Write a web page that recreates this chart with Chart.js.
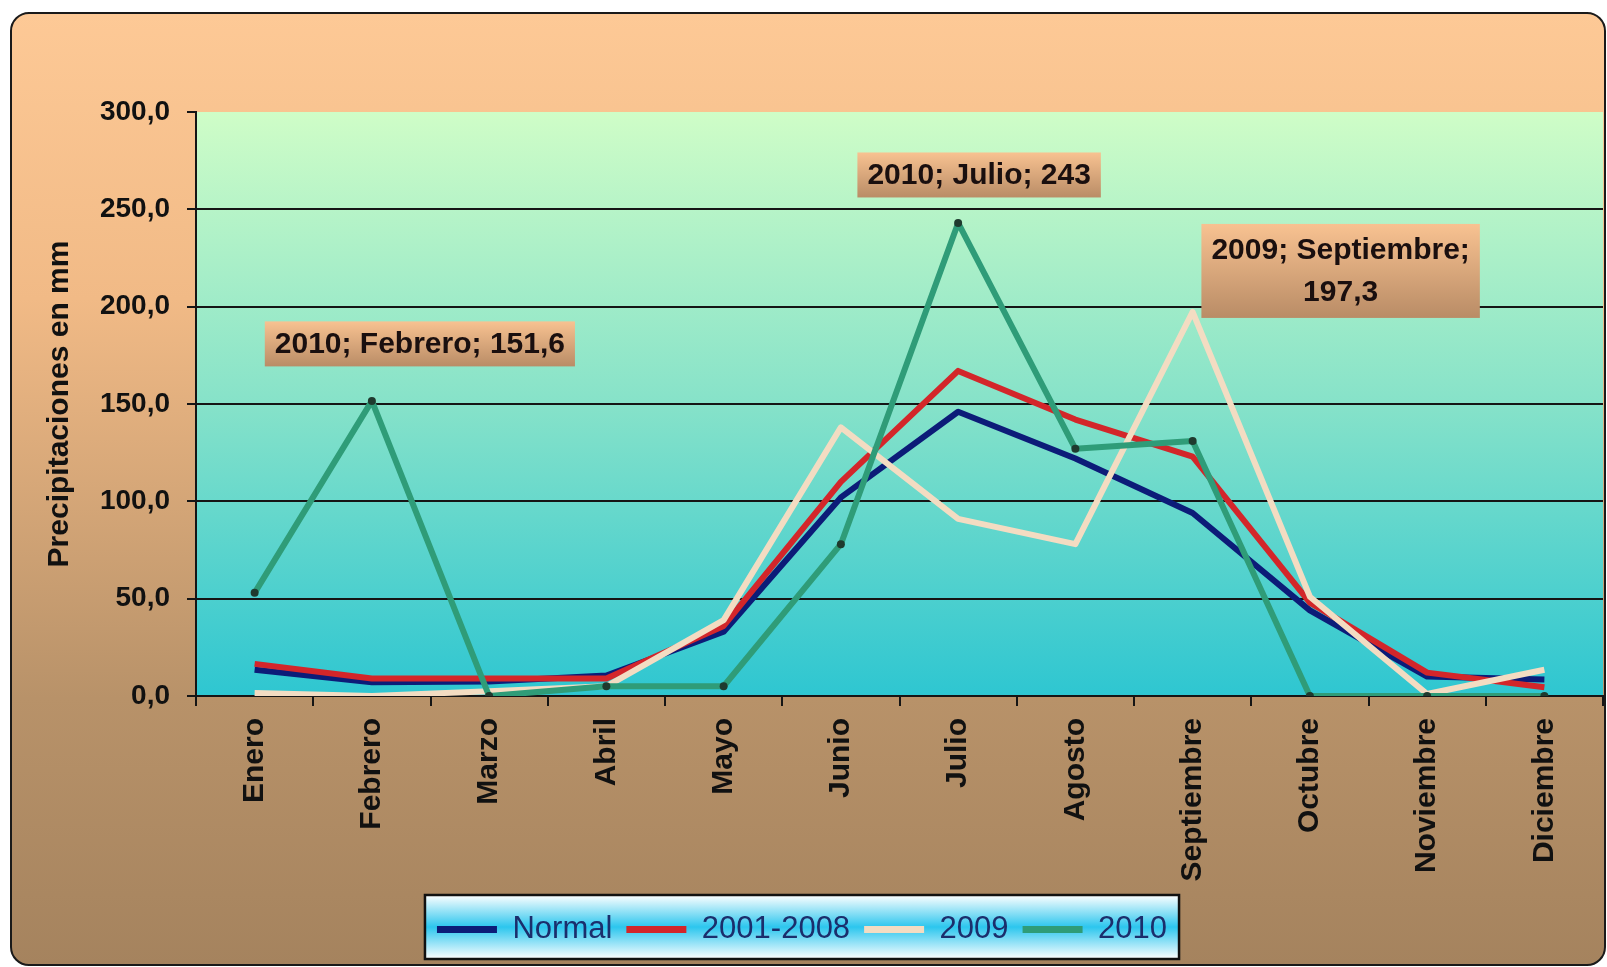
<!DOCTYPE html>
<html>
<head>
<meta charset="utf-8">
<script src="https://cdn.jsdelivr.net/npm/chart.js@4.4.1/dist/chart.umd.min.js"></script>
<style>
  html, body { margin: 0; padding: 0; background: #fff; }
  #wrap { width: 1607px; height: 967px; position: relative; }
</style>
</head>
<body>
<div id="wrap"><canvas id="rainChart"></canvas></div>
<script>
// Precipitaciones mensuales en mm
const months = ['Enero', 'Febrero', 'Marzo', 'Abril', 'Mayo', 'Junio', 'Julio', 'Agosto', 'Septiembre', 'Octubre', 'Noviembre', 'Diciembre'];
const seriesNames = ['Normal', '2001-2008', '2009', '2010'];
const normalValues = [13.5, 7, 7.5, 10.5, 33, 102, 146, 122, 94, 44, 10, 8.5];
const avg0108Values = [16.5, 9, 9, 9, 36, 110, 167, 142, 123, 48, 12, 4.5];
const values2009 = [1.5, 0, 2.5, 5, 39, 138, 91, 78, 197.3, 51, 1, 13.5];
const values2010 = [53, 151.6, 0, 5, 5, 78, 243, 127, 131, 0, 0, 0];
const yTicks = [0, 50, 100, 150, 200, 250, 300];

const seriesColors = ['#0c1c78', '#d3262a', '#f3dcc2', '#2f9c78'];
const gridColor = '#151515';
const boldFont = '"Liberation Sans", Arial, sans-serif';

// etiquetas de datos (serie, mes, desplazamiento de la caja)
const callouts = [
  { series: 3, month: 1, dx: 48, dy: -57, wrap: false },
  { series: 3, month: 6, dx: 21, dy: -48, wrap: false },
  { series: 2, month: 8, dx: 148, dy: -41, wrap: true }
];

const fmt = v => String(v).replace('.', ',');

const backdropPlugin = {
  id: 'backdrop',
  beforeDraw(chart) {
    const { ctx, chartArea: a } = chart;
    ctx.save();
    // panel exterior
    const g = ctx.createLinearGradient(0, 13, 0, 965);
    g.addColorStop(0, '#fdc996');
    g.addColorStop(0.3, '#f1ba86');
    g.addColorStop(0.72, '#b89269');
    g.addColorStop(1, '#a5835e');
    ctx.beginPath();
    ctx.roundRect(11, 13, 1594, 952, 18);
    ctx.fillStyle = g;
    ctx.fill();
    ctx.lineWidth = 2;
    ctx.strokeStyle = '#1a1a1a';
    ctx.stroke();

    // area de trazado
    const pg = ctx.createLinearGradient(0, a.top, 0, a.bottom);
    pg.addColorStop(0, '#cffdc7');
    pg.addColorStop(0.5, '#86e2c9');
    pg.addColorStop(1, '#2ec6d1');
    ctx.fillStyle = pg;
    ctx.fillRect(a.left, a.top, a.right - a.left, a.bottom - a.top);

    // caja de la leyenda
    const lg = chart.legend;
    if (lg && lg.legendHitBoxes && lg.legendHitBoxes.length) {
      const hb = lg.legendHitBoxes;
      const left = Math.min(...hb.map(h => h.left)) - 12;
      const right = Math.max(...hb.map(h => h.left + h.width)) + 12;
      const top = lg.top - 5;
      const bottom = lg.bottom + 4;
      const lgGrad = ctx.createLinearGradient(0, top, 0, bottom);
      lgGrad.addColorStop(0, '#ffffff');
      lgGrad.addColorStop(0.5, '#2cc6ee');
      lgGrad.addColorStop(1, '#ffffff');
      ctx.fillStyle = lgGrad;
      ctx.fillRect(left, top, right - left, bottom - top);
      ctx.lineWidth = 2.5;
      ctx.strokeStyle = '#111';
      ctx.strokeRect(left, top, right - left, bottom - top);
    }
    ctx.restore();
  }
};

const calloutPlugin = {
  id: 'callouts',
  afterDatasetsDraw(chart) {
    const ctx = chart.ctx;
    ctx.save();
    ctx.font = 'bold 30px ' + boldFont;
    ctx.textAlign = 'center';
    ctx.textBaseline = 'middle';
    callouts.forEach(c => {
      const pt = chart.getDatasetMeta(c.series).data[c.month];
      const value = chart.data.datasets[c.series].data[c.month];
      const head = seriesNames[c.series] + '; ' + months[c.month] + ';';
      const lines = c.wrap ? [head, fmt(value)] : [head + ' ' + fmt(value)];
      const lh = 42;
      const w = Math.max(...lines.map(l => ctx.measureText(l).width)) + 20;
      const h = lines.length * lh + (lines.length > 1 ? 10 : 3);
      const cx = pt.x + c.dx;
      const cy = pt.y + c.dy;
      const bg = ctx.createLinearGradient(0, cy - h / 2, 0, cy + h / 2);
      bg.addColorStop(0, '#f8c291');
      bg.addColorStop(1, '#b98c66');
      ctx.fillStyle = bg;
      ctx.fillRect(cx - w / 2, cy - h / 2, w, h);
      ctx.fillStyle = '#1a0f0f';
      lines.forEach((l, i) => {
        ctx.fillText(l, cx, cy - (lines.length - 1) * lh / 2 + i * lh + 1);
      });
    });
    ctx.restore();
  }
};

const seriesData = [normalValues, avg0108Values, values2009, values2010];
const datasets = seriesData.map((vals, i) => ({
  label: seriesNames[i],
  data: vals,
  borderColor: seriesColors[i],
  backgroundColor: seriesColors[i],
  borderWidth: 6,
  tension: 0,
  borderJoinStyle: 'round',
  pointRadius: i === 3 ? 4 : 0,
  pointBackgroundColor: '#1f3a2e',
  pointBorderWidth: 0,
  order: 4 - i
}));

new Chart(document.getElementById('rainChart'), {
  type: 'line',
  data: { labels: months, datasets: datasets },
  options: {
    responsive: true,
    maintainAspectRatio: false,
    animation: false,
    layout: { padding: { top: 112, right: 3, bottom: 12, left: 0 } },
    plugins: {
      tooltip: { enabled: false },
      legend: {
        position: 'bottom',
        labels: {
          usePointStyle: true,
          pointStyle: 'line',
          pointStyleWidth: 60,
          padding: 14,
          color: '#1b2e6c',
          font: { family: '"Liberation Sans", Arial, sans-serif', size: 31 },
          generateLabels(chart) {
            const items = Chart.defaults.plugins.legend.labels.generateLabels(chart);
            items.sort((a, b) => a.datasetIndex - b.datasetIndex);
            items.forEach(it => {
              const ds = chart.data.datasets[it.datasetIndex];
              it.lineWidth = 7;
              it.strokeStyle = ds.borderColor;
              it.fillStyle = ds.borderColor;
            });
            return items;
          }
        }
      }
    },
    scales: {
      x: {
        offset: true,
        afterFit(scale) { scale.height = 204; },
        grid: {
          offset: true,
          drawOnChartArea: false,
          drawTicks: true,
          tickLength: 10,
          color: gridColor,
          lineWidth: 2
        },
        border: { display: true, color: gridColor, width: 2 },
        ticks: {
          autoSkip: false,
          minRotation: 90,
          maxRotation: 90,
          padding: 12,
          color: '#111',
          font: { family: boldFont, size: 30, weight: 'bold' }
        }
      },
      y: {
        min: 0,
        max: 300,
        afterFit(scale) { scale.width = 196; },
        afterBuildTicks(scale) { scale.ticks = yTicks.map(v => ({ value: v })); },
        grid: {
          color: c => (c.tick && c.tick.value === 300 ? 'rgba(0,0,0,0)' : gridColor),
          tickColor: gridColor,
          lineWidth: 2,
          tickLength: 9
        },
        border: { display: true, color: gridColor, width: 2 },
        ticks: {
          padding: 17,
          color: '#111',
          font: { family: boldFont, size: 28, weight: 'bold' },
          callback: v => v.toFixed(1).replace('.', ',')
        },
        title: {
          display: true,
          text: 'Precipitaciones en mm',
          color: '#111',
          padding: { top: 42, bottom: 0 },
          font: { family: boldFont, size: 30, weight: 'bold' }
        }
      }
    }
  },
  plugins: [backdropPlugin, calloutPlugin]
});
</script>
</body>
</html>
